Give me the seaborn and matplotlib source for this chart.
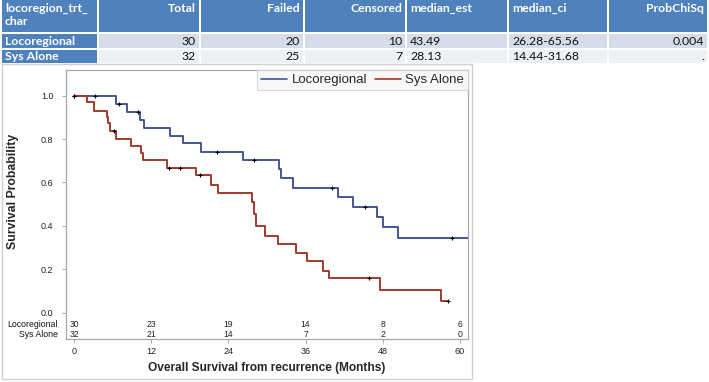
import numpy as np
import pandas as pd
import matplotlib.pyplot as plt
import matplotlib.transforms as mtransforms
from matplotlib.patches import Rectangle
from matplotlib.lines import Line2D
import seaborn as sns

# summary table values
table_header = ["locoregion_trt_\nchar", "Total", "Failed", "Censored", "median_est", "median_ci", "ProbChiSq"]
groups = ["Locoregional", "Sys Alone"]
total = [30, 32]
failed = [20, 25]
censored = [10, 7]
median_est = ["43.49", "28.13"]
median_ci = ["26.28-65.56", "14.44-31.68"]
prob_chisq = ["0.004", "."]

# Kaplan-Meier step curves (months, survival)
loco_time = [0, 6.6, 8.2, 10.3, 10.9, 14.9, 17.0, 19.7, 26.3, 31.8, 32.2, 34.1, 41.0, 43.4, 47.1, 48.1, 50.3, 61.3]
loco_surv = [1.0, 0.96, 0.926, 0.888, 0.852, 0.814, 0.78, 0.742, 0.702, 0.662, 0.619, 0.576, 0.535, 0.489, 0.442, 0.393, 0.343, 0.343]
loco_cens = [0, 3.3, 7.0, 9.9, 22.3, 28.0, 40.1, 45.3, 58.8]

sys_time = [0, 2.1, 3.1, 5.1, 5.3, 5.6, 6.5, 8.8, 10.4, 10.7, 14.4, 19.0, 21.3, 22.4, 27.6, 28.0, 28.3, 29.7,
            31.7, 34.5, 36.3, 38.7, 39.6, 47.5, 57.1, 58.1]
sys_surv = [1.0, 0.97, 0.931, 0.903, 0.873, 0.837, 0.80, 0.768, 0.735, 0.702, 0.665, 0.633, 0.588, 0.553, 0.512,
            0.455, 0.40, 0.355, 0.317, 0.277, 0.237, 0.194, 0.159, 0.105, 0.054, 0.054]
sys_cens = [0, 6.2, 14.8, 16.5, 19.6, 45.9, 58.1]

# number at risk
risk_times = [0, 12, 24, 36, 48, 60]
loco_risk = [30, 23, 19, 14, 8, 6]
sys_risk = [32, 21, 14, 7, 2, 0]

colors = {"Locoregional": "#445694", "Sys Alone": "#A23A2E"}

sns.set_theme(style="white")
plt.rcParams["font.family"] = ["Liberation Sans", "DejaVu Sans"]

W, H = 709, 382
fig = plt.figure(figsize=(W / 100, H / 100), dpi=100)

# ---- summary table on top ----
tax = fig.add_axes([0, 1 - 64 / H, 1, 64 / H])
tax.set_xlim(0, W)
tax.set_ylim(64, 0)
tax.axis("off")

col_edges = [2, 99, 201, 305, 407, 509, 609, 709]
row_edges = [(0, 32), (34, 47.5), (49.5, 63)]
blue = "#4F81BD"
row_fill = ["#D6DCE8", "#EDF0F5"]
align = ["left", "right", "right", "right", "left", "left", "right"]

rows = [table_header]
for i in range(2):
    rows.append([groups[i], str(total[i]), str(failed[i]), str(censored[i]),
                 median_est[i], median_ci[i], prob_chisq[i]])

for r, (y0, y1) in enumerate(row_edges):
    for c in range(7):
        x0, x1 = col_edges[c], col_edges[c + 1] - 2
        if r == 0 or c == 0:
            fc, tc, fw = blue, "white", "bold"
        else:
            fc, tc, fw = row_fill[r - 1], "#111111", "normal"
        tax.add_patch(Rectangle((x0, y0), x1 - x0, y1 - y0, facecolor=fc, edgecolor="none"))
        tx = x0 + 3 if align[c] == "left" else x1 - 3
        if r == 0:
            tax.text(tx, y0 + 3, rows[r][c], ha=align[c], va="top", color=tc, fontweight=fw,
                     fontsize=8.8, family="Lato", linespacing=1.25)
        else:
            tax.text(tx, (y0 + y1) / 2 + 0.5, rows[r][c], ha=align[c], va="center", color=tc,
                     fontweight=fw, fontsize=8.8, family="Lato")

# outer panel border
fig.add_artist(Rectangle((2 / W, 1 - 379 / H), 470 / W, 315 / H, transform=fig.transFigure,
                         facecolor="none", edgecolor="#d0d0d0", linewidth=1.0))

# ---- survival plot ----
ax = fig.add_axes([66 / W, 1 - 339 / H, (468 - 66) / W, (339 - 70) / H])

curves = pd.concat([
    pd.DataFrame({"time": loco_time, "surv": loco_surv, "group": "Locoregional"}),
    pd.DataFrame({"time": sys_time, "surv": sys_surv, "group": "Sys Alone"}),
])
sns.lineplot(data=curves, x="time", y="surv", hue="group", palette=colors, estimator=None,
             sort=False, drawstyle="steps-post", linewidth=1.4, legend=False, ax=ax)


def step_value(times, surv, t):
    idx = np.searchsorted(times, t, side="right") - 1
    return surv[idx]


cens = pd.DataFrame({
    "time": loco_cens + sys_cens,
    "surv": [step_value(loco_time, loco_surv, t) for t in loco_cens]
            + [step_value(sys_time, sys_surv, t) for t in sys_cens],
})
sns.scatterplot(data=cens, x="time", y="surv", marker="+", color="black", s=12, linewidth=0.8,
                zorder=5, ax=ax)

ax.set_xlim(-1.24, 61.25)
ax.set_ylim(-0.121, 1.118)
ax.set_xticks(risk_times)
ax.set_xticklabels([str(t) for t in risk_times], fontsize=6.5, color="#222222")
ax.set_yticks([0, 0.2, 0.4, 0.6, 0.8, 1.0])
ax.set_yticklabels(["0.0", "0.2", "0.4", "0.6", "0.8", "1.0"], fontsize=6.5, color="#222222")
ax.tick_params(axis="both", length=3, width=0.6, color="#999999", bottom=True, left=True)
ax.tick_params(axis="x", pad=3)
ax.tick_params(axis="y", pad=6)
for sp in ax.spines.values():
    sp.set_color("#a8a8a8")
    sp.set_linewidth(0.9)

ax.set_xlabel("Overall Survival from recurrence (Months)", fontsize=8.6, fontweight="bold", labelpad=4)
ax.set_ylabel("Survival Probability", fontsize=8.8, fontweight="bold")
ax.yaxis.set_label_coords(-0.118, 0.55)

# number at risk rows inside the frame
trans = mtransforms.blended_transform_factory(ax.transAxes, ax.transData)
for label, counts, yrow in [("Locoregional", loco_risk, -0.052), ("Sys Alone", sys_risk, -0.102)]:
    ax.text(-0.02, yrow, label, transform=trans, ha="right", va="center", fontsize=6.3, color="#111111")
    for t, n in zip(risk_times, counts):
        ax.text(t, yrow, str(n), ha="center", va="center", fontsize=6.2, color="#222222")

handles = [Line2D([], [], color=colors[g], linewidth=1.2) for g in groups]
leg = ax.legend(handles, groups, loc="upper right", ncol=2, fontsize=9.5, frameon=True,
                fancybox=False, borderaxespad=0, handlelength=2.0, handletextpad=0.3,
                columnspacing=0.6, borderpad=0.3)
leg.get_frame().set_facecolor("#f7f7f7")
leg.get_frame().set_edgecolor("#cfcfcf")
leg.get_frame().set_linewidth(0.8)

fig.savefig("out.png", dpi=100)
